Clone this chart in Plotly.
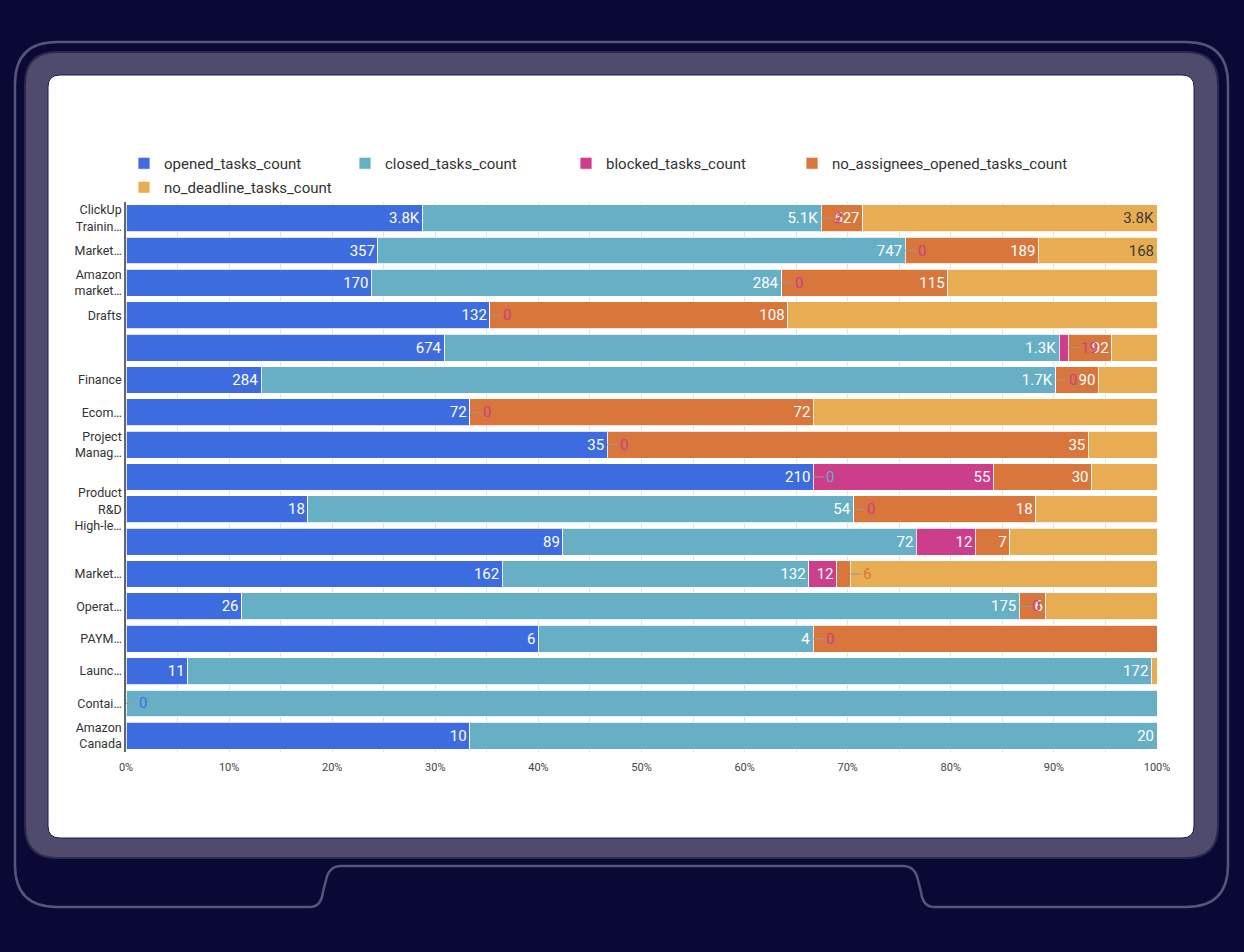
import plotly.graph_objects as go

# ---- data ----
categories = [
    "ClickUp<br>Trainin…", "Market…", "Amazon<br>market…", "Drafts", " ",
    "Finance", "Ecom…", "Project<br>Manag…", "  ", "Product<br>R&D<br>High-le…",
    "   ", "Market…\u200b", "Operat…", "PAYM…", "Launc…",
    "Contai…", "Amazon<br>Canada",
]
opened_tasks = [3800, 357, 170, 132, 674, 284, 72, 35, 210, 18, 89, 162, 26, 6, 11, 0, 10]
closed_tasks = [5100, 747, 284, 0, 1300, 1670, 0, 0, 0, 54, 72, 132, 175, 4, 172, 5, 20]
blocked_tasks = [2, 0, 0, 0, 19, 0, 0, 0, 55, 0, 12, 12, 0, 0, 0, 0, 0]
no_assignees_tasks = [527, 189, 115, 108, 92, 90, 72, 35, 30, 18, 7, 6, 6, 5, 0, 0, 0]
no_deadline_tasks = [3770, 168, 145, 134, 96, 123, 72, 5, 20, 12, 30, 132, 25, 0, 1, 0, 0]

series_names = ["opened_tasks_count", "closed_tasks_count", "blocked_tasks_count",
                "no_assignees_opened_tasks_count", "no_deadline_tasks_count"]
series_values = [opened_tasks, closed_tasks, blocked_tasks, no_assignees_tasks, no_deadline_tasks]
series_colors = ["#3d6be0", "#67afc5", "#cc3d8c", "#d8763b", "#e8ad52"]
x_ticks = list(range(0, 101, 10))

# labels the source chart does not print inside the bar (series index, row index)
hidden_labels = {(1, 15), (3, 13)}
# labels drawn outside the segment with a small leader line
leader_labels = [(2, 0), (2, 1), (2, 2), (2, 3), (2, 4), (2, 5), (2, 6), (2, 7),
                 (1, 8), (2, 9), (3, 11), (2, 12), (2, 13), (0, 15)]
labelled_deadline_rows = 2
# which legend box each series goes in (the source wraps its legend)
legend_of = ["legend", "legend", "legend", "legend3", "legend2"]


def fmt(v):
    if v >= 1000:
        return "{:.1f}K".format(v / 1000)
    return str(v)


n = len(categories)
totals = [sum(s[i] for s in series_values) for i in range(n)]

fig = go.Figure()
for si, (name, vals, col) in enumerate(zip(series_names, series_values, series_colors)):
    text = []
    for i, v in enumerate(vals):
        show = v > 0 and (si, i) not in hidden_labels and (si, i) not in leader_labels
        if si == 4 and i >= labelled_deadline_rows:
            show = False
        text.append(fmt(v) if show else "")
    fig.add_trace(go.Bar(
        y=categories, x=vals, name=name, orientation="h",
        marker=dict(color=col, line=dict(color="rgba(255,255,255,0.8)", width=1)),
        text=text, textposition="inside", insidetextanchor="end",
        constraintext="none",
        textfont=dict(family="Roboto", size=15, color="#3a3a3a" if si == 4 else "white"),
        legend=legend_of[si],
    ))

# leader-line labels for tiny / zero segments
annotations = []
for si, i in leader_labels:
    cum = sum(series_values[k][i] for k in range(si + 1))
    annotations.append(dict(
        x=cum / totals[i] * 100, y=categories[i], xref="x", yref="y",
        text=fmt(series_values[si][i]), showarrow=True, arrowhead=0,
        arrowwidth=1, arrowcolor="#9a9a9a", ax=11, ay=0, xanchor="left",
        standoff=0, startstandoff=0,
        font=dict(family="Roboto", size=15, color=series_colors[si]),
    ))

# ---- device frame drawn around the chart ----
W, H = 1244, 952


def px(x):
    return x / W


def py(y):
    return 1 - y / H


def rounded_rect(x0, y0, x1, y1, r):
    pts = [
        "M {} {}".format(px(x0 + r), py(y0)),
        "L {} {}".format(px(x1 - r), py(y0)),
        "Q {} {} {} {}".format(px(x1), py(y0), px(x1), py(y0 + r)),
        "L {} {}".format(px(x1), py(y1 - r)),
        "Q {} {} {} {}".format(px(x1), py(y1), px(x1 - r), py(y1)),
        "L {} {}".format(px(x0 + r), py(y1)),
        "Q {} {} {} {}".format(px(x0), py(y1), px(x0), py(y1 - r)),
        "L {} {}".format(px(x0), py(y0 + r)),
        "Q {} {} {} {} Z".format(px(x0), py(y0), px(x0 + r), py(y0)),
    ]
    return " ".join(pts)


def outline_path():
    x0, y0, x1, y1, r = 15, 42, 1228, 907, 42
    mid = 866
    p = "M {} {} L {} {}".format(px(x0 + r), py(y0), px(x1 - r), py(y0))
    p += " Q {} {} {} {}".format(px(x1), py(y0), px(x1), py(y0 + r))
    p += " L {} {}".format(px(x1), py(y1 - r))
    p += " Q {} {} {} {}".format(px(x1), py(y1), px(x1 - r), py(y1))
    p += " L {} {}".format(px(934), py(y1))
    p += " Q {} {} {} {}".format(px(923), py(y1), px(921), py(892))
    p += " L {} {}".format(px(918), py(880))
    p += " Q {} {} {} {}".format(px(915), py(mid), px(903), py(mid))
    p += " L {} {}".format(px(341), py(mid))
    p += " Q {} {} {} {}".format(px(329), py(mid), px(326), py(880))
    p += " L {} {}".format(px(323), py(892))
    p += " Q {} {} {} {}".format(px(321), py(y1), px(310), py(y1))
    p += " L {} {}".format(px(x0 + r), py(y1))
    p += " Q {} {} {} {}".format(px(x0), py(y1), px(x0), py(y1 - r))
    p += " L {} {}".format(px(x0), py(y0 + r))
    p += " Q {} {} {} {} Z".format(px(x0), py(y0), px(x0 + r), py(y0))
    return p


shapes = [
    dict(type="path", xref="paper", yref="paper", layer="below",
         path=outline_path(), line=dict(color="#57547c", width=2.5),
         fillcolor="rgba(0,0,0,0)"),
    dict(type="path", xref="paper", yref="paper", layer="below",
         path=rounded_rect(25, 52, 1218, 858, 32), line=dict(color="#2b2850", width=2),
         fillcolor="#4e4b6d"),
    dict(type="path", xref="paper", yref="paper", layer="below",
         path=rounded_rect(48, 75, 1194, 838, 12), line=dict(color="#1c1a55", width=1),
         fillcolor="white"),
]

legend_style = dict(orientation="h", xanchor="left", yanchor="top",
                    bgcolor="rgba(0,0,0,0)", font=dict(size=15, color="#333333"))

fig.update_layout(
    width=W, height=H, autosize=False,
    margin=dict(l=0, r=0, t=0, b=0, autoexpand=False),
    paper_bgcolor="#0a0834",
    plot_bgcolor="rgba(0,0,0,0)",
    barmode="stack", barnorm="percent", bargap=0.17,
    font=dict(family="Roboto", color="#333333"),
    shapes=shapes,
    annotations=annotations,
    showlegend=True,
    legend=dict(legend_style, x=px(124), y=py(147),
                entrywidthmode="pixels", entrywidth=176, traceorder="normal"),
    legend3=dict(legend_style, x=px(792), y=py(147)),
    legend2=dict(legend_style, x=px(124), y=py(171)),
    xaxis=dict(domain=[px(126), px(1157)], range=[0, 100], tickmode="array",
               tickvals=x_ticks, ticktext=["{}%".format(t) for t in x_ticks],
               showgrid=True, gridcolor="#e3e3e3", zeroline=False, automargin=False,
               minor=dict(dtick=5, showgrid=True, gridcolor="#e3e3e3"),
               ticklabelstandoff=7,
               tickfont=dict(size=11, color="#444444"), showline=False, fixedrange=True),
    yaxis=dict(domain=[py(752), py(202)], autorange="reversed", showline=True,
               linecolor="#666666", linewidth=1.5, ticks="", automargin=False,
               tickfont=dict(size=12.5, color="#333333"), fixedrange=True),
)

# keep the page exactly the size of the figure
page_fix = (
    "document.documentElement.style.margin='0';"
    "document.documentElement.style.overflow='hidden';"
    "document.body.style.margin='0';document.body.style.overflow='hidden';"
)
fig.write_html("out.html", config={"responsive": False, "displayModeBar": False},
               post_script=page_fix)
